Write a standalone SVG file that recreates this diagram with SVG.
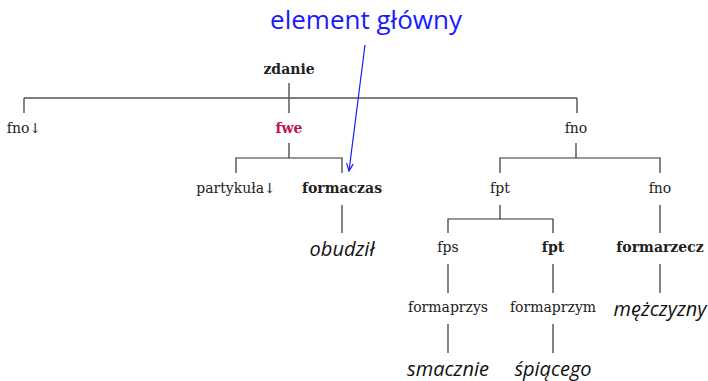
<svg xmlns="http://www.w3.org/2000/svg" width="708" height="381" viewBox="0 0 708 381">
  <style>
    .lbl { font-family: "DejaVu Serif", "Liberation Serif", serif; font-size: 14px; fill: #222; text-anchor: middle; }
    .b { font-weight: bold; }
    .head { fill: #c0144f; }
    .word { font-family: "Open Sans", "DejaVu Sans", sans-serif; font-style: italic; font-size: 20px; fill: #111; text-anchor: middle; }
    .note { font-family: "Open Sans", "DejaVu Sans", sans-serif; font-size: 26px; fill: #1a1aff; text-anchor: middle; }
    .edge { stroke: #333; stroke-width: 1.2; fill: none; }
    .bar { stroke: #555; stroke-width: 1.6; fill: none; }
  </style>
  <defs>
    <marker id="arrow" viewBox="0 0 10 10" refX="9" refY="5" markerWidth="7" markerHeight="7" orient="auto-start-reverse">
      <path d="M0,1 L9,5 L0,9" fill="none" stroke="#1a1aff" stroke-width="1.4"/>
    </marker>
  </defs>
  <rect width="708" height="381" fill="#fff"/>

  <g id="connectors">
    <!-- zdanie -->
    <path class="edge" d="M289,83 V113"/>
    <path class="bar" d="M24,98 H577"/>
    <path class="edge" d="M24,98 V113 M577,98 V113"/>
    <!-- fwe -->
    <path class="edge" d="M289,143 V158 M236,173 V158 H342 V173"/>
    <!-- formaczas -->
    <path class="edge" d="M342,205 V233"/>
    <!-- fno -->
    <path class="edge" d="M576,143 V158 M500,173 V158 H660 V173"/>
    <!-- fpt -->
    <path class="edge" d="M500,205 V219 M448,233 V219 H553 V233"/>
    <!-- fno (right) -->
    <path class="edge" d="M660,205 V233"/>
    <!-- lower chains -->
    <path class="edge" d="M448,264 V293 M553,264 V293 M660,264 V293"/>
    <path class="edge" d="M448,324 V353 M553,324 V353"/>
  </g>

  <g id="annotation">
    <text class="note" x="366" y="29">element główny</text>
    <path d="M365,45 L349,171" stroke="#1a1aff" stroke-width="1.2" fill="none" marker-end="url(#arrow)"/>
  </g>

  <g id="n-zdanie"><text class="lbl b" x="289" y="74">zdanie</text></g>
  <g id="n-fno1"><text class="lbl" x="24" y="133">fno↓</text></g>
  <g id="n-fwe"><text class="lbl b head" x="289" y="133">fwe</text></g>
  <g id="n-fno2"><text class="lbl" x="576" y="133">fno</text></g>
  <g id="n-partykula"><text class="lbl" x="236" y="193">partykuła↓</text></g>
  <g id="n-formaczas"><text class="lbl b" x="342" y="193">formaczas</text></g>
  <g id="n-obudzil"><text class="word" x="342" y="256">obudził</text></g>
  <g id="n-fpt1"><text class="lbl" x="500" y="193">fpt</text></g>
  <g id="n-fno3"><text class="lbl" x="660" y="193">fno</text></g>
  <g id="n-fps"><text class="lbl" x="448" y="252">fps</text></g>
  <g id="n-fpt2"><text class="lbl b" x="553" y="252">fpt</text></g>
  <g id="n-formarzecz"><text class="lbl b" x="660" y="252">formarzecz</text></g>
  <g id="n-formaprzys"><text class="lbl" x="448" y="312">formaprzys</text></g>
  <g id="n-formaprzym"><text class="lbl" x="553" y="312">formaprzym</text></g>
  <g id="n-mezczyzny"><text class="word" x="660" y="316">mężczyzny</text></g>
  <g id="n-smacznie"><text class="word" x="448" y="376">smacznie</text></g>
  <g id="n-spiacego"><text class="word" x="553" y="376">śpiącego</text></g>
</svg>
